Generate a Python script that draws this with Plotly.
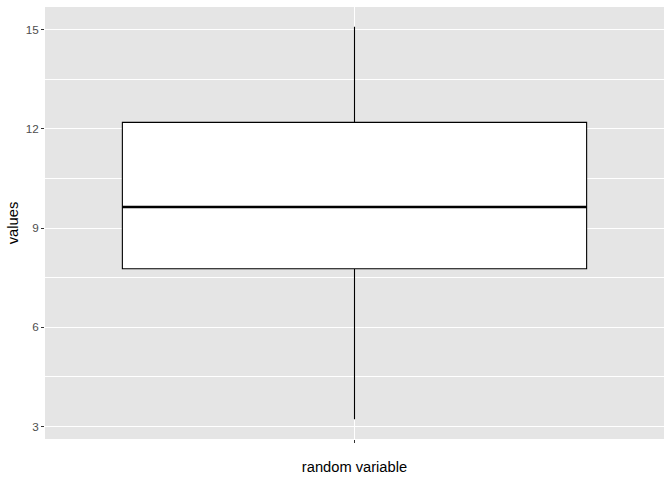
import plotly.graph_objects as go

# Data
categories = ["random variable"]
q1_vals = [7.77]
median_vals = [9.64]
q3_vals = [12.20]
lower_whisker = [3.22]
upper_whisker = [15.09]
y_tick_vals = [3, 6, 9, 12, 15]
y_tick_text = ["3", "6", "9", "12", "15"]

BOX_W = 0.9
positions = list(range(len(categories)))

fig = go.Figure()
fig.add_trace(go.Box(
    x=positions,
    q1=q1_vals, median=median_vals, q3=q3_vals,
    lowerfence=lower_whisker, upperfence=upper_whisker,
    width=BOX_W,
    fillcolor="white",
    line=dict(color="black", width=1.1),
    whiskerwidth=0,
    boxpoints=False,
    hoverinfo="skip",
    showlegend=False,
))
# thicker median line like ggplot2 (fatten = 2)
for p, m in zip(positions, median_vals):
    fig.add_trace(go.Scatter(
        x=[p - BOX_W / 2, p + BOX_W / 2], y=[m, m],
        mode="lines", line=dict(color="black", width=2.6),
        hoverinfo="skip", showlegend=False,
    ))

fig.update_layout(
    width=672, height=480,
    margin=dict(l=45, r=8, t=7, b=41),
    paper_bgcolor="white",
    plot_bgcolor="#E5E5E5",
    font=dict(family="Liberation Sans, Arial, sans-serif", color="#4D4D4D"),
    xaxis=dict(
        range=[-0.6, 0.6],
        tickvals=positions, ticktext=[""] * len(categories),
        showgrid=True, gridcolor="white", gridwidth=1.1,
        zeroline=False,
        ticks="outside", ticklen=3, tickwidth=1.1, tickcolor="#333333",
        title=dict(text=categories[0], font=dict(size=14.7, color="black"), standoff=17),
        showline=False,
    ),
    yaxis=dict(
        range=[2.62, 15.69],
        tickvals=y_tick_vals, ticktext=y_tick_text,
        showgrid=True, gridcolor="white", gridwidth=1.1,
        zeroline=False,
        ticks="outside", ticklen=3, tickwidth=1.1, tickcolor="#333333",
        tickfont=dict(size=11.7, color="#4D4D4D"),
        minor=dict(tickvals=[4.5, 7.5, 10.5, 13.5], showgrid=True,
                   gridcolor="white", gridwidth=0.55, ticks=""),
        title=dict(text="values", font=dict(size=14.7, color="black"), standoff=3),
        showline=False,
    ),
)

fig.write_html("out.html")
